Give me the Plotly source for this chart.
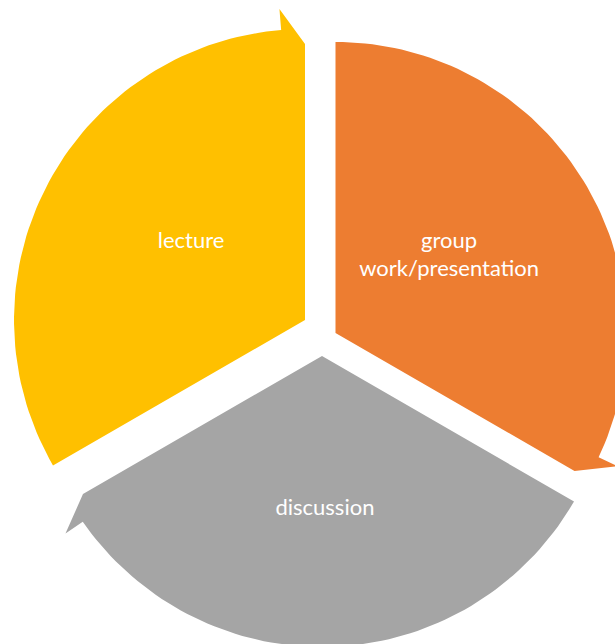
import numpy as np
import plotly.graph_objects as go

# ---- data ----
categories = ["lecture", "group<br>work/presentation", "discussion"]
values = [1, 1, 1]
colors = ["#FFC000", "#ED7D31", "#A5A5A5"]

# ---- layout / geometry constants (pixels) ----
W, H = 615, 644
CENTER = (320.8, 336.3)
START_ANGLE = 210.0          # degrees, math convention, first slice starts here, clockwise
# per-slice explode offsets (screen dx, dy)
OFFSETS = [(-15.8, -16.3), (14.7, -3.3), (1.2, 19.7)]
R_ARC = 291.0
R_BARB = 312.0
R_TIP = 276.0
BARB_DEG = 4.7
LABEL_R = [138, 137, 154]
LABEL_ANGLE_SHIFT = [-4.4, 4.0, 1.1]

total = float(sum(values))
fig = go.Figure()

a0 = START_ANGLE
for i, (cat, v, col) in enumerate(zip(categories, values, colors)):
    span = 360.0 * v / total
    a1 = a0 - span
    px = CENTER[0] + OFFSETS[i][0]
    py = CENTER[1] + OFFSETS[i][1]
    arc = np.linspace(a0, a1 + BARB_DEG, 80)
    xs = [px] + list(px + R_ARC * np.cos(np.radians(arc)))
    ys = [py] + list(py - R_ARC * np.sin(np.radians(arc)))
    ab = np.radians(a1 + BARB_DEG)
    xs.append(px + R_BARB * np.cos(ab)); ys.append(py - R_BARB * np.sin(ab))
    at = np.radians(a1)
    xs.append(px + R_TIP * np.cos(at)); ys.append(py - R_TIP * np.sin(at))
    xs.append(px); ys.append(py)
    fig.add_trace(go.Scatter(x=xs, y=ys, mode="lines", fill="toself",
                             fillcolor=col, line=dict(width=0, color=col),
                             hoverinfo="skip", showlegend=False))
    mid = np.radians((a0 + a1) / 2 + LABEL_ANGLE_SHIFT[i])
    lx = px + LABEL_R[i] * np.cos(mid)
    ly = py - LABEL_R[i] * np.sin(mid)
    fig.add_trace(go.Scatter(x=[lx], y=[ly], mode="text", text=[cat],
                             textfont=dict(family="Lato", size=22, color="white"),
                             textposition="middle center",
                             hoverinfo="skip", showlegend=False))
    a0 = a1

fig.update_layout(
    width=W, height=H,
    margin=dict(l=0, r=0, t=0, b=0),
    paper_bgcolor="white", plot_bgcolor="white",
    xaxis=dict(range=[0, W], visible=False, fixedrange=True),
    yaxis=dict(range=[H, 0], visible=False, fixedrange=True),
    showlegend=False,
)
fig.write_html("out.html",
               config={"displayModeBar": False, "staticPlot": True},
               post_script="document.body.style.margin='0';document.body.style.overflow='hidden';")
